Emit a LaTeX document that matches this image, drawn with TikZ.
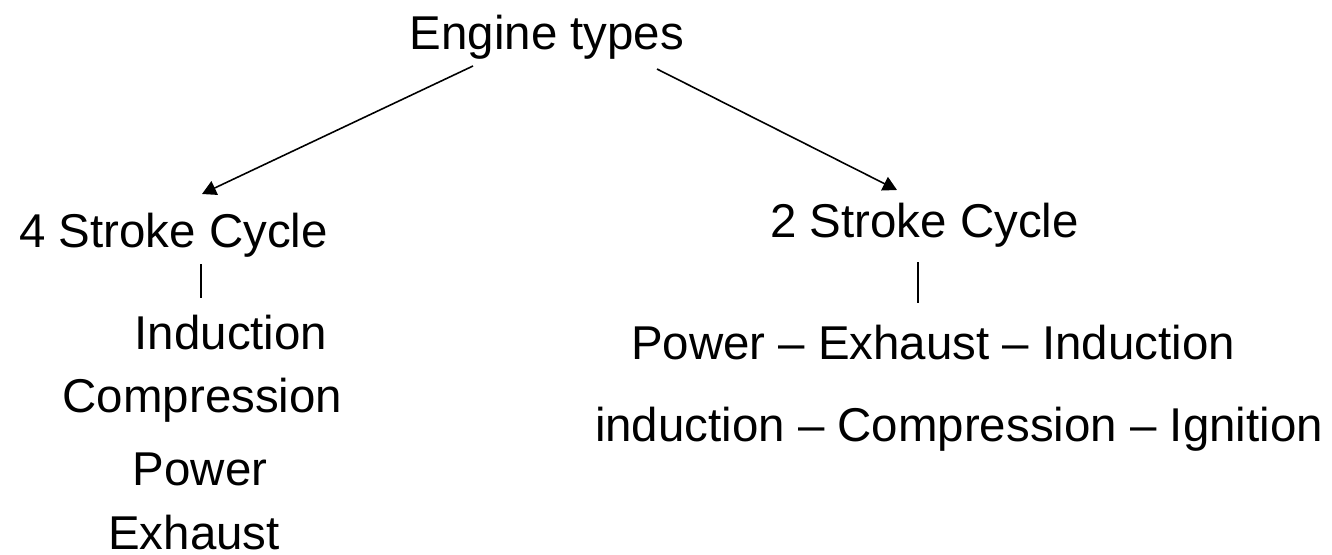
\documentclass[tikz,border=0pt]{standalone}
\usepackage{fontspec}
\setmainfont{Liberation Sans}
\usetikzlibrary{arrows.meta}
\begin{document}
\begin{tikzpicture}[x=0.2mm,y=-0.2mm,
  lbl/.style={inner sep=0pt,anchor=base,font=\fontsize{27}{32}\selectfont},
  branch/.style={line width=0.9pt,-{Triangle[length=8pt,width=8.5pt]}},
  tick/.style={line width=0.8pt}]
\useasboundingbox (0,0) rectangle (1332,555);
\node[lbl] (root) at (547,50) {Engine types};
\node[lbl] (four) at (173.5,247) {4 Stroke Cycle};
\node[lbl] (two) at (924.5,237) {2 Stroke Cycle};
% four stroke steps
\node[lbl] (ind4) at (231,349) {Induction};
\node[lbl] (comp4) at (202.5,412) {Compression};
\node[lbl] (pow4) at (200,485) {Power};
\node[lbl] (exh4) at (194,549) {Exhaust};
% two stroke steps
\node[lbl] (cyc2a) at (933,359) {Power -- Exhaust -- Induction};
\node[lbl] (cyc2b) at (959,441) {induction -- Compression -- Ignition};
\coordinate (rootL) at (473,66);
\coordinate (rootR) at (657,69);
\coordinate (fourTip) at (202,194);
\coordinate (twoTip) at (897,190);
\coordinate (fourA) at (201,264);
\coordinate (fourB) at (201,298);
\coordinate (twoA) at (918,262);
\coordinate (twoB) at (918,303);
\draw[branch] (rootL) -- (fourTip);
\draw[branch] (rootR) -- (twoTip);
\draw[tick] (fourA) -- (fourB);
\draw[tick] (twoA) -- (twoB);
\end{tikzpicture}
\end{document}
